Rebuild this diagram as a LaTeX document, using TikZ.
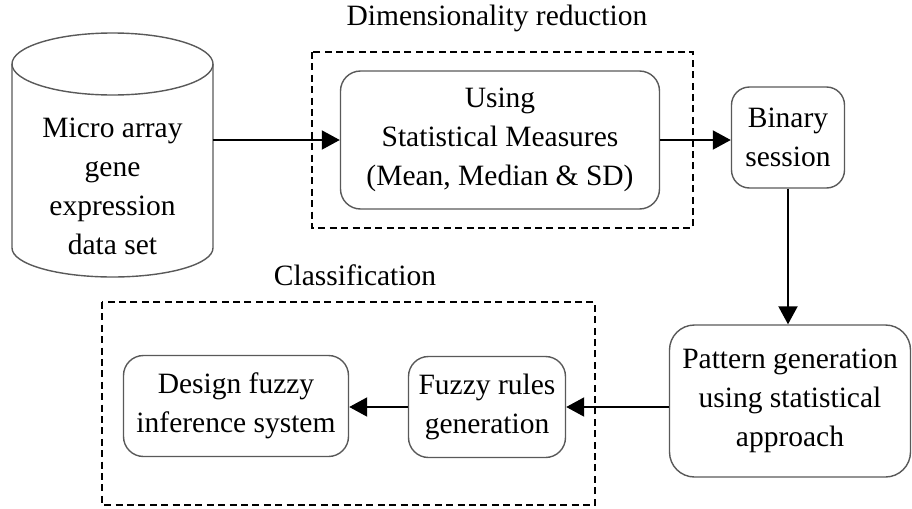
\documentclass[tikz,border=0pt]{standalone}
\usepackage{fontspec}
\setmainfont{Liberation Serif}
\usetikzlibrary{arrows.meta}

\tikzset{
    txt/.style = {align=center, font=\fontsize{14.75}{19.5}\selectfont},
    stepbox/.style = {txt, draw=black!65, line width=0.7pt, rounded corners=10pt, inner sep=2pt},
    groupbox/.style = {draw, dashed, dash pattern=on 3.5pt off 2.2pt, line width=0.8pt},
    flow/.style = {line width=1pt, -{Triangle[length=9pt, width=9.5pt]}}
}

\begin{document}
\begin{tikzpicture}[x=0.5pt, y=-0.5pt]
    \useasboundingbox (0,0) rectangle (912,509);

    % data source (cylinder drawn by hand, text node spans its body)
    \node[txt, inner sep=0pt, minimum width=100.5pt] (db) at (112.5,186)
        {Micro array\\gene\\expression\\data set};
    \draw[black!65, line width=0.7pt] (112.5,64) ellipse (100.5 and 31);
    \draw[black!65, line width=0.7pt] (12,64) -- (12,248) arc (180:0:100.5 and 29) -- (213,64);

    % dimensionality reduction
    \draw[groupbox] (312,52) rectangle (693,228);
    \node[txt] (dimlbl) at (497,18) {Dimensionality reduction};
    \node[stepbox, minimum width=159.5pt, minimum height=69pt] (stat) at (500,140)
        {Using\\Statistical Measures\\(Mean, Median \& SD)};

    \node[stepbox, rounded corners=9pt, minimum width=56.5pt, minimum height=50.5pt] (bin) at (788,137.5)
        {Binary\\session};
    \node[stepbox, rounded corners=12.5pt, minimum width=120.5pt, minimum height=76pt] (pat) at (790,401)
        {Pattern generation\\using statistical\\approach};

    % classification
    \draw[groupbox] (102,302) rectangle (595,505);
    \node[txt] (clslbl) at (355,275) {Classification};
    \node[stepbox, minimum width=78.5pt, minimum height=50.5pt] (rules) at (487,407)
        {Fuzzy rules\\generation};
    \node[stepbox, minimum width=112.5pt, minimum height=50.5pt] (fis) at (236,406)
        {Design fuzzy\\inference system};

    % connectors
    \draw[flow] (db.east |- stat.west) -- (stat.west);
    \draw[flow] (stat.east) -- (stat.east -| bin.west);
    \draw[flow] (bin.south) -- (bin.south |- pat.north);
    \draw[flow] (pat.west |- rules.east) -- (rules.east);
    \draw[flow] (rules.west) -- (rules.west -| fis.east);
\end{tikzpicture}
\end{document}
